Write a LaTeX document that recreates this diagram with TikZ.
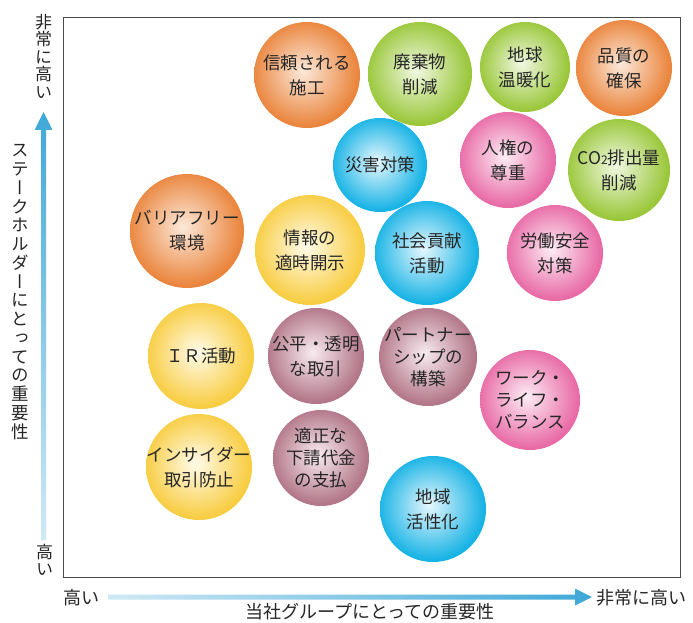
\documentclass[tikz,border=0pt]{standalone}
\usepackage{fontspec}
\usepackage{graphicx}
\newfontfamily\jp{Noto Sans CJK JP}
\newfontfamily\jpv[RawFeature=+vert]{Noto Sans CJK JP}
\definecolor{txt}{HTML}{262626}
\definecolor{frame}{HTML}{4A4A4A}
\definecolor{orgO}{HTML}{EA853D}\definecolor{orgI}{HTML}{FCE9DA}
\definecolor{grnO}{HTML}{9AC73A}\definecolor{grnI}{HTML}{F1F8E2}
\definecolor{yelO}{HTML}{F8CD42}\definecolor{yelI}{HTML}{FFFBEA}
\definecolor{bluO}{HTML}{17B3E5}\definecolor{bluI}{HTML}{E6F7FD}
\definecolor{pnkO}{HTML}{E86AA6}\definecolor{pnkI}{HTML}{FDEDF4}
\definecolor{mauO}{HTML}{B27689}\definecolor{mauI}{HTML}{F8EBEF}
\definecolor{axD}{HTML}{3FA8D7}\definecolor{axL}{HTML}{CFE9F5}
\pgfdeclareradialshading{ballorg}{\pgfpoint{-2bp}{2bp}}{color(0bp)=(orgI); color(25bp)=(orgO); color(50bp)=(orgO)}
\pgfdeclareradialshading{ballgrn}{\pgfpoint{-2bp}{2bp}}{color(0bp)=(grnI); color(25bp)=(grnO); color(50bp)=(grnO)}
\pgfdeclareradialshading{ballyel}{\pgfpoint{-2bp}{2bp}}{color(0bp)=(yelI); color(25bp)=(yelO); color(50bp)=(yelO)}
\pgfdeclareradialshading{ballblu}{\pgfpoint{-2bp}{2bp}}{color(0bp)=(bluI); color(25bp)=(bluO); color(50bp)=(bluO)}
\pgfdeclareradialshading{ballpnk}{\pgfpoint{-2bp}{2bp}}{color(0bp)=(pnkI); color(25bp)=(pnkO); color(50bp)=(pnkO)}
\pgfdeclareradialshading{ballmau}{\pgfpoint{-2bp}{2bp}}{color(0bp)=(mauI); color(25bp)=(mauO); color(50bp)=(mauO)}
\tikzset{
  ball/.style={circle, inner sep=0pt, minimum size=#1},
  btxt/.style={font=\jp\fontsize{17.5}{25}\selectfont, text=txt, align=center, inner sep=0pt},
  btxtthree/.style={font=\jp\fontsize{17.5}{22}\selectfont, text=txt, align=center, inner sep=0pt},
  axlab/.style={font=\jp\fontsize{18}{18}\selectfont, text=txt, inner sep=0pt},
  vlab/.style={font=\jpv\fontsize{17}{17.5}\selectfont, text=txt, align=center, inner sep=0pt},
}
\begin{document}
\begin{tikzpicture}[x=1pt,y=-1pt]
\useasboundingbox (0,0) rectangle (693,623);
\fill[white] (0,0) rectangle (693,623);
% frame
\draw[frame, line width=1.2pt] (63.5,17.5) rectangle (680.5,577.5);
% y axis arrow
\shade[top color=axD, bottom color=axL] (41,540) -- (41,130) -- (34.5,130) -- (43.5,112) -- (52.5,130) -- (46,130) -- (46,540) -- cycle;
% x axis arrow
\shade[left color=axL, right color=axD] (108,594.5) -- (575,594.5) -- (575,588.5) -- (592,597) -- (575,605.5) -- (575,599.5) -- (108,599.5) -- cycle;
% axis labels
\node[vlab] (ytop) at (43.5,56) {非\\常\\に\\高\\い};
\node[vlab, font=\jpv\fontsize{17.5}{18.75}\selectfont] (ytitle) at (20,292) {ス\\テ\\ー\\ク\\ホ\\ル\\ダ\\ー\\に\\と\\っ\\て\\の\\重\\要\\性};
\node[vlab] (ybot) at (44.5,560) {高\\い};
\node[axlab] (xlow) at (81.5,597.5) {高い};
\node[axlab, anchor=west] (xhigh) at (596.5,597.5) {非常に高い};
\node[axlab, font=\jp\fontsize{18}{18}\selectfont] (xtitle) at (370,612) {当社グループにとっての重要性};
% balls
\node[ball=106pt, shading=ballorg] (b1) at (307,75) {};
\node[btxt] (t1) at (b1) {信頼される\\施工};
\node[ball=104pt, shading=ballgrn] (b2) at (420,74) {};
\node[btxt] (t2) at (b2) {廃棄物\\削減};
\node[ball=90pt, shading=ballgrn] (b3) at (525,67) {};
\node[btxt] (t3) at (b3) {地球\\温暖化};
\node[ball=96pt, shading=ballorg] (b4) at (624,68) {};
\node[btxt] (t4) at (b4) {品質の\\確保};
\node[ball=94pt, shading=ballblu] (b5) at (380,165) {};
\node[btxt] (t5) at (b5) {災害対策};
\node[ball=114pt, shading=ballorg] (b6) at (187,231) {};
\node[btxt] (t6) at (b6) {バリアフリー\\環境};
\node[ball=110pt, shading=ballyel] (b7) at (310,250) {};
\node[btxt] (t7) at (b7) {情報の\\適時開示};
\node[ball=104pt, shading=ballblu] (b8) at (427,253) {};
\node[btxt] (t8) at (b8) {社会貢献\\活動};
\node[ball=96pt, shading=ballpnk] (b9) at (508,160) {};
\node[btxt] (t9) at (b9) {人権の\\尊重};
\node[ball=102pt, shading=ballgrn] (b10) at (619,170) {};
\node[btxt] (t10) at (b10) {CO{\fontsize{12}{12}\selectfont 2}排出量\\削減};
\node[ball=96pt, shading=ballpnk] (b11) at (555,253) {};
\node[btxt] (t11) at (b11) {労働安全\\対策};
\node[ball=106pt, shading=ballyel] (b12) at (201,356) {};
\node[btxt] (t12) at (b12) {ＩＲ活動};
\node[ball=96pt, shading=ballmau] (b13) at (316,356) {};
\node[btxt] (t13) at (b13) {公平・透明\\な取引};
\node[ball=98pt, shading=ballmau] (b14) at (428,357) {};
\node[btxtthree] (t14) at (b14) {パートナー\\シップの\\構築};
\node[ball=100pt, shading=ballpnk] (b15) at (530,400) {};
\node[btxtthree] (t15) at (b15) {ワーク・\\ライフ・\\バランス};
\node[ball=106pt, shading=ballyel] (b16) at (199,467) {};
\node[btxt] (t16) at (b16) {インサイダー\\取引防止};
\node[ball=96pt, shading=ballmau] (b17) at (321,458) {};
\node[btxtthree] (t17) at (b17) {適正な\\下請代金\\の支払};
\node[ball=106pt, shading=ballblu] (b18) at (433,509) {};
\node[btxt] (t18) at (b18) {地域\\活性化};
\end{tikzpicture}
\end{document}
